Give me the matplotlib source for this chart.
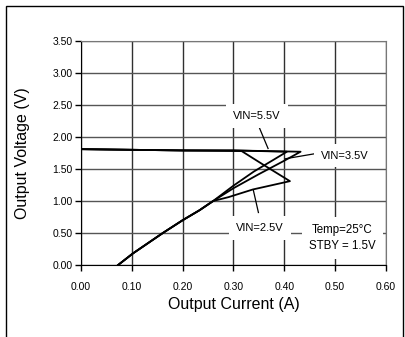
import matplotlib
matplotlib.use("Agg")
import matplotlib.pyplot as plt
from matplotlib.patches import Rectangle

plt.rcParams['font.family'] = ['Liberation Sans', 'DejaVu Sans']

# common fold-back tail (all three curves meet here)
tail_i = [0.26, 0.233, 0.20, 0.161, 0.102, 0.073]
tail_v = [1.00, 0.855, 0.70, 0.50, 0.18, 0.00]

# VIN = 5.5V
i55 = [0.00, 0.10, 0.20, 0.30, 0.432, 0.40, 0.35, 0.30]
v55 = [1.81, 1.80, 1.79, 1.79, 1.77, 1.63, 1.42, 1.20]

# VIN = 3.5V
i35 = [0.00, 0.10, 0.20, 0.30, 0.405, 0.38, 0.34, 0.30]
v35 = [1.81, 1.80, 1.79, 1.79, 1.77, 1.65, 1.46, 1.24]

# VIN = 2.5V
i25 = [0.00, 0.10, 0.20, 0.316, 0.36, 0.411, 0.338, 0.29]
v25 = [1.81, 1.80, 1.79, 1.78, 1.56, 1.31, 1.18, 1.06]

xticks = [0.0, 0.1, 0.2, 0.3, 0.4, 0.5, 0.6]
yticks = [0.0, 0.5, 1.0, 1.5, 2.0, 2.5, 3.0, 3.5]

fig = plt.figure(figsize=(4.06, 3.37), dpi=100)
# outer frame
fig.patches.append(Rectangle((6 / 406, -0.05), 397 / 406, 1.05 - 6 / 337,
                             transform=fig.transFigure, fill=False,
                             edgecolor='black', lw=1.0))

ax = fig.add_axes([81 / 406, 1 - 265 / 337, 305 / 406, 224 / 337])

for xs, vs in [(i55, v55), (i35, v35), (i25, v25)]:
    ax.plot(xs + tail_i, vs + tail_v, color='black', lw=1.3, zorder=3)

ax.set_xlim(0, 0.6)
ax.set_ylim(0, 3.5)
ax.set_xticks(xticks)
ax.set_yticks(yticks)
ax.set_xticklabels(['%.2f' % t for t in xticks], fontsize=7.5)
ax.set_yticklabels(['%.2f' % t for t in yticks], fontsize=7.5)
ax.tick_params(axis='x', direction='out', length=4, pad=8, width=1)
ax.tick_params(axis='y', direction='out', length=4, pad=2, width=1)

ax.grid(axis='x', color='#303030', lw=1.0, zorder=1)
ax.grid(axis='y', color='#555555', lw=1.0, zorder=1)
ax.set_axisbelow(True)
for s in ['top', 'right']:
    ax.spines[s].set_color('#777777')
for s in ['left', 'bottom']:
    ax.spines[s].set_color('black')

ax.set_xlabel('Output Current (A)', fontsize=11.5, labelpad=4)
ax.set_ylabel('Output Voltage (V)', fontsize=11.5, labelpad=16)

box = dict(facecolor='white', edgecolor='none', pad=5)
ax.text(0.346, 2.33, 'VIN=5.5V', fontsize=8, ha='center', va='center', bbox=box, zorder=4)
ax.text(0.518, 1.71, 'VIN=3.5V', fontsize=8, ha='center', va='center', bbox=box, zorder=4)
ax.text(0.352, 0.58, 'VIN=2.5V', fontsize=8, ha='center', va='center', bbox=box, zorder=4)
ax.text(0.514, 0.42, 'Temp=25°C\nSTBY = 1.5V', fontsize=8.3, ha='center', va='center',
        linespacing=1.45, bbox=box, zorder=4)

# leader lines
ax.plot([0.348, 0.368], [2.20, 1.82], color='black', lw=0.9, zorder=3)
ax.plot([0.461, 0.402], [1.74, 1.66], color='black', lw=0.9, zorder=3)
ax.plot([0.339, 0.349], [1.17, 0.82], color='black', lw=0.9, zorder=3)

fig.savefig('out.png', dpi=100)
